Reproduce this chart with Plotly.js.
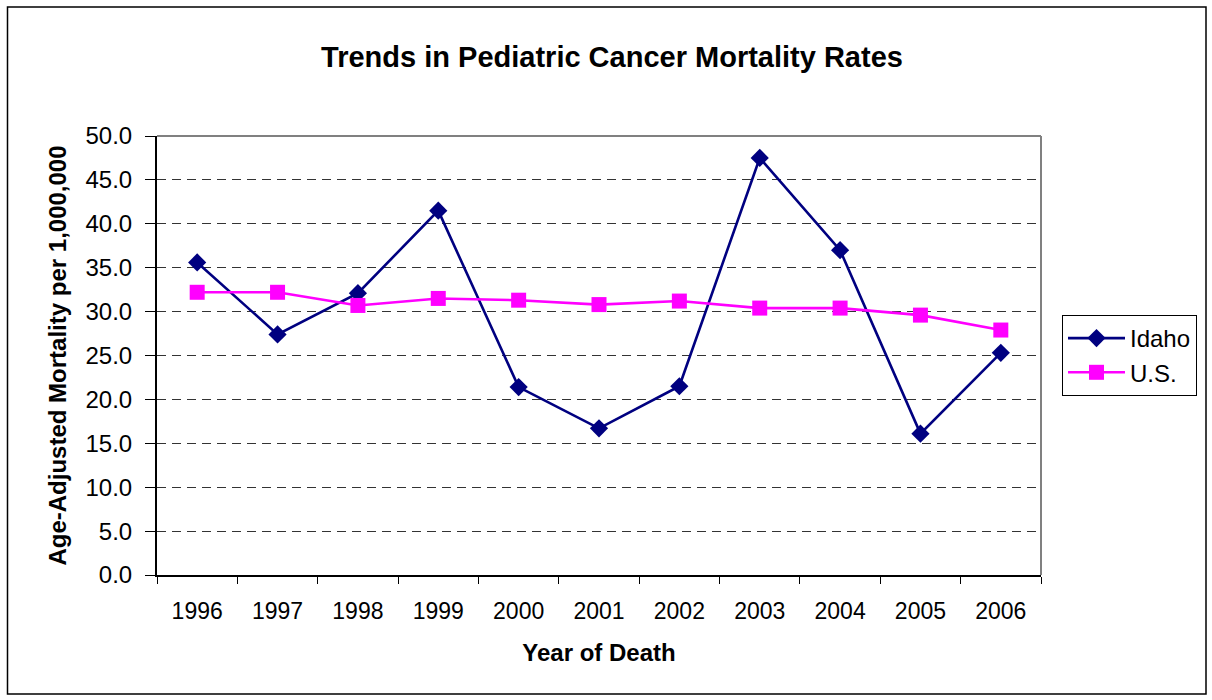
<!DOCTYPE html>
<html>
<head>
<meta charset="utf-8">
<script src="https://cdn.plot.ly/plotly-3.0.1.min.js"></script>
<style>html,body{margin:0;padding:0;background:#fff;}#chart{width:1212px;height:700px;}</style>
</head>
<body>
<div id="chart"></div>
<script>
const years = ['1996','1997','1998','1999','2000','2001','2002','2003','2004','2005','2006'];
const idaho = [35.6, 27.4, 32.1, 41.5, 21.4, 16.7, 21.5, 47.5, 37.0, 16.1, 25.3];
const us = [32.2, 32.2, 30.7, 31.5, 31.3, 30.8, 31.2, 30.4, 30.4, 29.6, 27.9];
const yTicks = [0,5,10,15,20,25,30,35,40,45,50];

const font = 'Liberation Sans, Arial, sans-serif';
const L = 157, R = 1041, T = 136, B = 575;
const px = v => (v - L) / (R - L);
const py = v => (B - v) / (B - T);

const traces = [
  {x: years, y: idaho, name: 'Idaho', type: 'scatter', mode: 'lines+markers',
   line: {color: '#000080', width: 2.6}, marker: {symbol: 'diamond', size: 14, color: '#000080'}},
  {x: years, y: us, name: 'U.S.', type: 'scatter', mode: 'lines+markers',
   line: {color: '#FF00FF', width: 2.6}, marker: {symbol: 'square', size: 15, color: '#FF00FF'}}
];

const layout = {
  width: 1212, height: 700,
  margin: {l: L, r: 1212 - R, t: T, b: 700 - B},
  paper_bgcolor: '#fff', plot_bgcolor: '#fff',
  font: {family: font, size: 22, color: '#000'},
  title: {text: '<b>Trends in Pediatric Cancer Mortality Rates</b>', x: 612/1212, xref: 'container', xanchor: 'center',
          y: 1 - 57/700, yref: 'container', yanchor: 'middle', font: {family: font, size: 29, color: '#000'}},
  xaxis: {type: 'category', range: [-0.5, 10.5], autorange: false, tickson: 'boundaries', ticks: 'outside', ticklen: 7, tickwidth: 1, tickcolor: '#000',
          showline: true, linecolor: '#000', linewidth: 2, showgrid: false, zeroline: false,
          tickfont: {family: font, size: 23}, ticklabelstandoff: 14,
          title: {text: '<b>Year of Death</b>', font: {family: font, size: 24}, standoff: 22}},
  yaxis: {range: [0, 50], autorange: false, tickvals: yTicks, ticktext: yTicks.map(v => v.toFixed(1)), ticks: 'outside', ticklen: 10,
          tickcolor: '#000', showline: true, linecolor: '#000', linewidth: 2, showgrid: true, gridcolor: '#333',
          griddash: '9px,6px', gridwidth: 1, zeroline: false, tickfont: {family: font, size: 24}, ticklabelstandoff: 8,
          title: {text: '<b>Age-Adjusted Mortality per 1,000,000</b>', font: {family: font, size: 24}, standoff: 12}},
  legend: {x: px(1062), y: py(315), xanchor: 'left', yanchor: 'top', bordercolor: '#000', borderwidth: 1,
           font: {family: font, size: 24}, bgcolor: '#fff', itemwidth: 57},
  showlegend: true,
  shapes: [
    {type: 'line', xref: 'paper', yref: 'paper', x0: 0, x1: 1, y0: 1, y1: 1, line: {color: '#808080', width: 2}},
    {type: 'line', xref: 'paper', yref: 'paper', x0: 1, x1: 1, y0: 0, y1: 1, line: {color: '#808080', width: 2}},
    {type: 'rect', xref: 'paper', yref: 'paper', x0: px(7.5), x1: px(1206), y0: py(694), y1: py(7), line: {color: '#000', width: 1.5}, layer: 'below'}
  ]
};

Plotly.newPlot('chart', traces, layout, {displayModeBar: false, staticPlot: true});
</script>
</body>
</html>
